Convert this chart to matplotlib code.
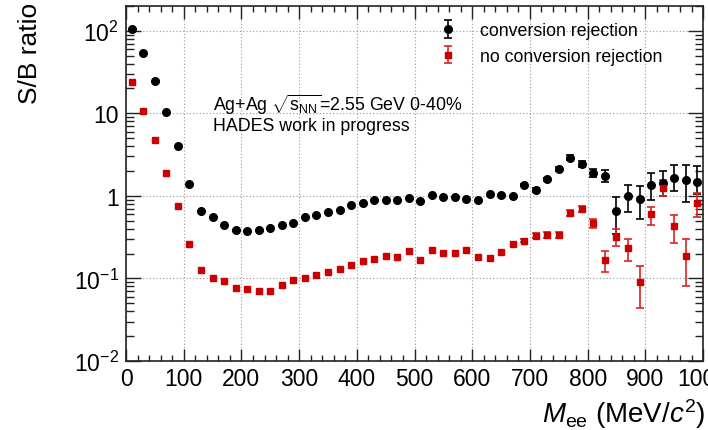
import numpy as np
import matplotlib.pyplot as plt
from matplotlib.ticker import MultipleLocator, FixedLocator, FixedFormatter, LogLocator, NullFormatter

plt.rcParams['font.family'] = ['Liberation Sans', 'DejaVu Sans']
plt.rcParams['mathtext.fontset'] = 'custom'
plt.rcParams['mathtext.rm'] = 'Liberation Sans'
plt.rcParams['mathtext.it'] = 'Liberation Sans:italic'
plt.rcParams['mathtext.bf'] = 'Liberation Sans:bold'

# bin centres in MeV/c^2
mass = np.array([10, 30, 50, 70, 90, 110, 130, 150, 170, 190,
                 210, 230, 250, 270, 290, 310, 330, 350, 370, 390,
                 410, 430, 450, 470, 490, 510, 530, 550, 570, 590,
                 610, 630, 650, 670, 690, 710, 730, 750, 770, 790,
                 810, 830, 850, 870, 890, 910, 930, 950, 970, 990])

# S/B with conversion rejection
conv = np.array([105, 54, 24.3, 10.3, 4.0, 1.38, 0.65, 0.55, 0.45, 0.39,
                 0.377, 0.385, 0.41, 0.445, 0.47, 0.56, 0.58, 0.63, 0.68, 0.78,
                 0.83, 0.89, 0.89, 0.89, 0.94, 0.87, 1.03, 0.98, 0.96, 0.91,
                 0.90, 1.05, 1.02, 0.99, 1.36, 1.18, 1.58, 2.14, 2.89, 2.46,
                 1.88, 1.73, 0.66, 0.99, 0.92, 1.36, 1.45, 1.65, 1.56, 1.47])

# S/B without conversion rejection
noconv = np.array([24, 10.8, 4.7, 1.9, 0.76, 0.262, 0.128, 0.100, 0.093, 0.077,
                   0.075, 0.071, 0.071, 0.083, 0.096, 0.100, 0.11, 0.119, 0.132, 0.146,
                   0.161, 0.174, 0.187, 0.184, 0.214, 0.166, 0.224, 0.204, 0.204, 0.22,
                   0.184, 0.177, 0.207, 0.26, 0.285, 0.331, 0.34, 0.34, 0.62, 0.69,
                   0.467, 0.168, 0.316, 0.232, 0.0915, 0.605, 1.24, 0.43, 0.189, 0.82])

# asymmetric errors, only given where they stick out of the markers
err_mass = np.array([690, 710, 730, 750, 770, 790, 810, 830,
                     850, 870, 890, 910, 930, 950, 970, 990])
conv_lo = np.array([0.05, 0.05, 0.07, 0.12, 0.2, 0.2, 0.2, 0.26,
                    0.31, 0.36, 0.39, 0.48, 0.45, 0.49, 0.71, 0.41])
conv_hi = np.array([0.05, 0.05, 0.07, 0.12, 0.2, 0.2, 0.22, 0.35,
                    0.30, 0.37, 0.41, 0.52, 0.54, 0.72, 0.81, 0.86])
noconv_lo = np.array([0.012, 0.025, 0.03, 0.03, 0.05, 0.06, 0.06, 0.047,
                      0.07, 0.067, 0.048, 0.155, 0.24, 0.16, 0.109, 0.27])
noconv_hi = np.array([0.012, 0.025, 0.03, 0.03, 0.05, 0.06, 0.06, 0.05,
                      0.084, 0.068, 0.0485, 0.135, 0.31, 0.15, 0.111, 0.26])

n0 = len(mass) - len(err_mass)

fig = plt.figure(figsize=(7.08, 4.31), dpi=100)
ax = fig.add_axes([0.178, 0.160, 0.815, 0.824])

red = '#cc0000'
ax.plot(mass[:n0], conv[:n0], 'o', color='black', ms=5.5, zorder=3)
ax.errorbar(err_mass, conv[n0:], yerr=[conv_lo, conv_hi], fmt='o', color='black',
            ms=5.5, capsize=2.8, elinewidth=1.2, capthick=1.2, zorder=3,
            label='conversion rejection')
ax.plot(mass[:n0], noconv[:n0], 's', color=red, ms=4.3, zorder=3)
ax.errorbar(err_mass, noconv[n0:], yerr=[noconv_lo, noconv_hi], fmt='s', color=red,
            ecolor='#dd2222', ms=4.3, capsize=2.8, elinewidth=1.2, capthick=1.2,
            zorder=3, label='no conversion rejection')

ax.set_yscale('log')
ax.set_xlim(0, 1000)
ax.set_ylim(1e-2, 200)

ax.xaxis.set_major_locator(MultipleLocator(100))
ax.xaxis.set_minor_locator(MultipleLocator(20))
ax.yaxis.set_major_locator(FixedLocator([1e-2, 1e-1, 1, 10, 100]))
ax.yaxis.set_major_formatter(FixedFormatter([r'$10^{-2}$', r'$10^{-1}$', '1', '10', r'$10^{2}$']))
ax.yaxis.set_minor_locator(LogLocator(base=10, subs=np.arange(2, 10)))
ax.yaxis.set_minor_formatter(NullFormatter())

ax.tick_params(which='both', direction='in', top=True, right=True, colors='#222222',
               labelcolor='black', labelsize=16.5)
ax.tick_params(axis='x', which='major', length=9, width=1.0, pad=4)
ax.tick_params(axis='x', which='minor', length=4.5, width=1.0)
ax.tick_params(axis='y', which='major', length=11, width=1.0, pad=5)
ax.tick_params(axis='y', which='minor', length=5.5, width=1.0)

for s in ax.spines.values():
    s.set_linewidth(1.2)
    s.set_color('#222222')

ax.grid(True, which='major', color='#999999', linestyle=(0, (1, 2)), linewidth=0.8)
ax.set_axisbelow(True)

ax.text(0.151, 0.724, r'Ag+Ag $\sqrt{\mathrm{s}_{\rm NN}}$=2.55 GeV 0-40%', transform=ax.transAxes,
        fontsize=12.8, va='center', ha='left')
ax.text(0.151, 0.662, 'HADES work in progress', transform=ax.transAxes,
        fontsize=12.8, va='center', ha='left')

ax.legend(loc='upper left', bbox_to_anchor=(0.546, 0.955), frameon=False, fontsize=12.8,
          handlelength=0.8, handletextpad=1.4, labelspacing=0.5, borderpad=0,
          borderaxespad=0)

fig.text(0.043, 0.993, 'S/B ratio', rotation=90, ha='center', va='top', fontsize=19)
fig.text(0.996, 0.019, r'$M_{\rm ee}$ (MeV/$c^2$)', ha='right', va='baseline', fontsize=20)

fig.savefig('out.png', dpi=100)
